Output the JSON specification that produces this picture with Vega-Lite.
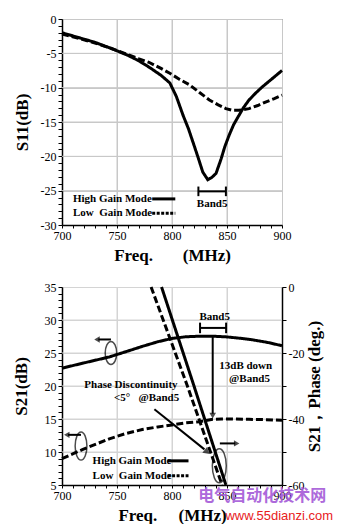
{
  "$schema": "https://vega.github.io/schema/vega-lite/v6.json",
  "padding": {"left": 12, "top": 12, "right": 0, "bottom": 0},
  "bounds": "flush",
  "spacing": 62,
  "config": {
    "font": "Liberation Serif",
    "view": {"stroke": null},
    "axis": {
      "labelFont": "Liberation Serif", "labelFontSize": 12, "labelColor": "#000", "labelFontWeight": "normal",
      "titleFont": "Liberation Serif", "titleFontSize": 17, "titleFontWeight": "bold", "titleColor": "#000",
      "domainColor": "#000", "domainWidth": 1.5, "tickColor": "#000", "tickWidth": 1, "tickSize": 3,
      "gridColor": "#c8c8c8", "gridWidth": 1, "labelOverlap": false, "labelFlush": false
    },
    "text": {"font": "Liberation Serif", "fontWeight": "bold", "fontSize": 11, "color": "#000"}
  },
  "datasets": {
    "s11": [
      {"f": 700, "v": -2.0, "mode": "High"}, {"f": 715, "v": -2.7, "mode": "High"}, {"f": 730, "v": -3.4, "mode": "High"},
      {"f": 745, "v": -4.3, "mode": "High"}, {"f": 760, "v": -5.3, "mode": "High"}, {"f": 770, "v": -6.1, "mode": "High"},
      {"f": 780, "v": -7.1, "mode": "High"}, {"f": 790, "v": -8.2, "mode": "High"}, {"f": 798, "v": -9.3, "mode": "High"},
      {"f": 804, "v": -11.3, "mode": "High"}, {"f": 810, "v": -14.0, "mode": "High"}, {"f": 815, "v": -16.0, "mode": "High"},
      {"f": 819, "v": -17.9, "mode": "High"}, {"f": 824, "v": -20.3, "mode": "High"}, {"f": 828, "v": -22.3, "mode": "High"},
      {"f": 832.5, "v": -23.4, "mode": "High"}, {"f": 836, "v": -23.1, "mode": "High"}, {"f": 840, "v": -22.5, "mode": "High"},
      {"f": 844.6, "v": -20.4, "mode": "High"}, {"f": 848, "v": -18.6, "mode": "High"}, {"f": 852, "v": -16.9, "mode": "High"},
      {"f": 856, "v": -15.4, "mode": "High"}, {"f": 861, "v": -14.0, "mode": "High"}, {"f": 865, "v": -12.9, "mode": "High"},
      {"f": 870, "v": -11.8, "mode": "High"}, {"f": 876, "v": -10.8, "mode": "High"}, {"f": 882, "v": -9.9, "mode": "High"},
      {"f": 891, "v": -8.7, "mode": "High"}, {"f": 900, "v": -7.5, "mode": "High"},
      {"f": 700, "v": -2.2, "mode": "Low"}, {"f": 715, "v": -2.8, "mode": "Low"}, {"f": 730, "v": -3.5, "mode": "Low"},
      {"f": 745, "v": -4.3, "mode": "Low"}, {"f": 760, "v": -5.2, "mode": "Low"}, {"f": 770, "v": -5.8, "mode": "Low"},
      {"f": 779, "v": -6.3, "mode": "Low"}, {"f": 790, "v": -7.2, "mode": "Low"}, {"f": 798, "v": -7.9, "mode": "Low"},
      {"f": 807, "v": -8.8, "mode": "Low"}, {"f": 816, "v": -9.6, "mode": "Low"}, {"f": 825, "v": -10.7, "mode": "Low"},
      {"f": 834, "v": -11.8, "mode": "Low"}, {"f": 842, "v": -12.5, "mode": "Low"}, {"f": 849, "v": -13.05, "mode": "Low"},
      {"f": 855, "v": -13.3, "mode": "Low"}, {"f": 861, "v": -13.3, "mode": "Low"}, {"f": 870, "v": -13.05, "mode": "Low"},
      {"f": 878, "v": -12.6, "mode": "Low"}, {"f": 885, "v": -12.1, "mode": "Low"}, {"f": 893, "v": -11.6, "mode": "Low"},
      {"f": 900, "v": -11.1, "mode": "Low"}
    ],
    "s21": [
      {"f": 700, "v": 22.7, "mode": "High"}, {"f": 720, "v": 23.5, "mode": "High"}, {"f": 743, "v": 24.4, "mode": "High"},
      {"f": 760, "v": 25.3, "mode": "High"}, {"f": 773, "v": 26.0, "mode": "High"}, {"f": 787, "v": 26.7, "mode": "High"},
      {"f": 800, "v": 27.2, "mode": "High"}, {"f": 812, "v": 27.45, "mode": "High"}, {"f": 825, "v": 27.55, "mode": "High"},
      {"f": 837, "v": 27.55, "mode": "High"}, {"f": 849, "v": 27.45, "mode": "High"}, {"f": 861, "v": 27.25, "mode": "High"},
      {"f": 873, "v": 27.0, "mode": "High"}, {"f": 887, "v": 26.6, "mode": "High"}, {"f": 900, "v": 26.1, "mode": "High"},
      {"f": 700, "v": 9.0, "mode": "Low"}, {"f": 719, "v": 10.4, "mode": "Low"}, {"f": 743, "v": 12.0, "mode": "Low"},
      {"f": 758, "v": 12.8, "mode": "Low"}, {"f": 773, "v": 13.4, "mode": "Low"}, {"f": 787, "v": 13.8, "mode": "Low"},
      {"f": 800, "v": 14.1, "mode": "Low"}, {"f": 812, "v": 14.4, "mode": "Low"}, {"f": 825, "v": 14.6, "mode": "Low"},
      {"f": 837, "v": 14.95, "mode": "Low"}, {"f": 845, "v": 15.0, "mode": "Low"}, {"f": 855, "v": 15.0, "mode": "Low"},
      {"f": 870, "v": 14.95, "mode": "Low"}, {"f": 885, "v": 14.9, "mode": "Low"}, {"f": 900, "v": 14.8, "mode": "Low"}
    ],
    "phase": [
      {"f": 790.5, "p": 0, "mode": "High"}, {"f": 820, "p": -30, "mode": "High"}, {"f": 849, "p": -60, "mode": "High"},
      {"f": 781, "p": 0, "mode": "Low"}, {"f": 814, "p": -30, "mode": "Low"}, {"f": 845.5, "p": -60, "mode": "Low"}
    ]
  },
  "vconcat": [
    {
      "width": 220,
      "height": 206,
      "view": {"stroke": "#555", "strokeWidth": 1},
      "encoding": {
        "x": {"field": "f", "type": "quantitative", "scale": {"domain": [700, 900], "nice": false},
          "axis": {"title": "Freq.\u00a0\u00a0\u00a0\u00a0\u00a0\u00a0\u00a0(MHz)", "values": [700,710,720,730,740,750,760,770,780,790,800,810,820,830,840,850,860,870,880,890,900],
            "labelExpr": "datum.value % 50 === 0 ? '' + datum.value : ''", "grid": true,
            "gridColor": {"condition": {"test": "datum.value % 50 === 0", "value": "#c8c8c8"}, "value": "transparent"},
            "labelPadding": 2, "titlePadding": 6}},
        "y": {"field": "v", "type": "quantitative", "scale": {"domain": [-30, 0], "nice": false},
          "axis": {"title": "S11(dB)", "values": [-30,-29,-28,-27,-26,-25,-24,-23,-22,-21,-20,-19,-18,-17,-16,-15,-14,-13,-12,-11,-10,-9,-8,-7,-6,-5,-4,-3,-2,-1,0],
            "labelExpr": "datum.value % 5 === 0 ? '' + datum.value : ''", "grid": true,
            "gridColor": {"condition": {"test": "datum.value % 5 === 0", "value": "#c8c8c8"}, "value": "transparent"},
            "tickSize": 4, "labelPadding": 2, "titlePadding": 9}}
      },
      "layer": [
        {
          "data": {"values": [
            {"f": 750, "f2": 750, "v": -30, "v2": 0}, {"f": 800, "f2": 800, "v": -30, "v2": 0}, {"f": 850, "f2": 850, "v": -30, "v2": 0},
            {"f": 700, "f2": 900, "v": -25, "v2": -25}, {"f": 700, "f2": 900, "v": -20, "v2": -20}, {"f": 700, "f2": 900, "v": -15, "v2": -15},
            {"f": 700, "f2": 900, "v": -10, "v2": -10}, {"f": 700, "f2": 900, "v": -5, "v2": -5}
          ]},
          "mark": {"type": "rule", "color": "#c8c8c8", "strokeWidth": 1},
          "encoding": {"x2": {"field": "f2"}, "y2": {"field": "v2"}}
        },
        {
          "data": {"name": "s11"},
          "mark": {"type": "line", "color": "#000", "strokeWidth": 3},
          "encoding": {
            "strokeDash": {"field": "mode", "type": "nominal", "scale": {"domain": ["High", "Low"], "range": [[1, 0], [7, 3]]}, "legend": null}
          }
        },
        {
          "data": {"values": [{"f": 710, "v": -26.2, "t": "High Gain Mode"}, {"f": 710, "v": -28.3, "t": "Low\u00a0\u00a0Gain Mode"}]},
          "mark": {"type": "text", "align": "left", "baseline": "middle"},
          "encoding": {"text": {"field": "t"}}
        },
        {
          "data": {"values": [{"f": 782, "f2": 803, "v": -26.2}]},
          "mark": {"type": "rule", "color": "#000", "strokeWidth": 3},
          "encoding": {"x2": {"field": "f2"}}
        },
        {
          "data": {"values": [{"f": 782, "f2": 803, "v": -28.3}]},
          "mark": {"type": "rule", "color": "#000", "strokeWidth": 3, "strokeDash": [3, 1.5]},
          "encoding": {"x2": {"field": "f2"}}
        },
        {
          "data": {"values": [
            {"f": 824, "f2": 849, "v": -25.1, "v2": -25.1},
            {"f": 824, "f2": 824, "v": -24.4, "v2": -25.8},
            {"f": 849, "f2": 849, "v": -24.4, "v2": -25.8}
          ]},
          "mark": {"type": "rule", "color": "#000", "strokeWidth": 2},
          "encoding": {"x2": {"field": "f2"}, "y2": {"field": "v2"}}
        },
        {
          "data": {"values": [{"f": 836.5, "v": -27.0, "t": "Band5"}]},
          "mark": {"type": "text", "align": "center", "baseline": "middle"},
          "encoding": {"text": {"field": "t"}}
        }
      ]
    },
    {
      "width": 220,
      "height": 198,
      "resolve": {"scale": {"y": "independent"}},
      "encoding": {
        "x": {"field": "f", "type": "quantitative", "scale": {"domain": [700, 900], "nice": false},
          "axis": {"title": "Freq.\u00a0\u00a0\u00a0\u00a0\u00a0(MHz)", "values": [700,710,720,730,740,750,760,770,780,790,800,810,820,830,840,850,860,870,880,890,900],
            "labelExpr": "datum.value % 50 === 0 ? '' + datum.value : ''", "grid": true,
            "gridColor": {"condition": {"test": "datum.value % 50 === 0", "value": "#d4d4d4"}, "value": "transparent"},
            "labelPadding": 2, "titlePadding": 6}}
      },
      "layer": [
        {
          "encoding": {
            "y": {"field": "v", "type": "quantitative", "scale": {"domain": [5, 35], "nice": false},
              "axis": {"title": "S21(dB)", "values": [5,6,7,8,9,10,11,12,13,14,15,16,17,18,19,20,21,22,23,24,25,26,27,28,29,30,31,32,33,34,35],
                "labelExpr": "datum.value % 5 === 0 ? '' + datum.value : ''", "grid": true,
                "gridColor": {"condition": {"test": "datum.value % 5 === 0", "value": "#d4d4d4"}, "value": "transparent"},
                "tickSize": 4, "labelPadding": 2, "titlePadding": 14}}
          },
          "layer": [
            {
              "data": {"values": [
                {"f": 750, "f2": 750, "v": 5, "v2": 35}, {"f": 800, "f2": 800, "v": 5, "v2": 35}, {"f": 850, "f2": 850, "v": 5, "v2": 35},
                {"f": 700, "f2": 900, "v": 10, "v2": 10}, {"f": 700, "f2": 900, "v": 15, "v2": 15}, {"f": 700, "f2": 900, "v": 20, "v2": 20},
                {"f": 700, "f2": 900, "v": 25, "v2": 25}, {"f": 700, "f2": 900, "v": 30, "v2": 30}
              ]},
              "mark": {"type": "rule", "color": "#d4d4d4", "strokeWidth": 1},
              "encoding": {"x2": {"field": "f2"}, "y2": {"field": "v2"}}
            },
            {
              "data": {"name": "s21"},
              "mark": {"type": "line", "color": "#000", "strokeWidth": 3},
              "encoding": {
                "strokeDash": {"field": "mode", "type": "nominal", "scale": {"domain": ["High", "Low"], "range": [[1, 0], [8, 4]]}, "legend": null}
              }
            },
            {
              "data": {"values": [
                {"f": 727.8, "v": 8.66, "t": "High Gain Mode"},
                {"f": 727.8, "v": 6.4, "t": "Low\u00a0\u00a0Gain Mode"},
                {"f": 843, "v": 23.0, "t": "13dB down"}
              ]},
              "mark": {"type": "text", "align": "left", "baseline": "middle"},
              "encoding": {"text": {"field": "t"}}
            },
            {
              "data": {"values": [{"f": 889, "v": 21.0, "t": "@Band5"}]},
              "mark": {"type": "text", "align": "right", "baseline": "middle"},
              "encoding": {"text": {"field": "t"}}
            },
            {
              "data": {"values": [
                {"f": 838.8, "v": 30.4, "t": "Band5"},
                {"f": 762.7, "v": 20.1, "t": "Phase Discontinuity"},
                {"f": 776.9, "v": 18.2, "t": "<5°\u00a0\u00a0\u00a0@Band5"}
              ]},
              "mark": {"type": "text", "align": "center", "baseline": "middle"},
              "encoding": {"text": {"field": "t"}}
            },
            {
              "data": {"values": [{"f": 796, "f2": 815, "v": 8.66}]},
              "mark": {"type": "rule", "color": "#000", "strokeWidth": 3},
              "encoding": {"x2": {"field": "f2"}}
            },
            {
              "data": {"values": [{"f": 796, "f2": 815, "v": 6.4}]},
              "mark": {"type": "rule", "color": "#000", "strokeWidth": 3, "strokeDash": [3, 1.5]},
              "encoding": {"x2": {"field": "f2"}}
            },
            {
              "data": {"values": [
                {"f": 825.5, "f2": 849.2, "v": 28.8, "v2": 28.8},
                {"f": 825.5, "f2": 825.5, "v": 29.6, "v2": 28.0},
                {"f": 849.2, "f2": 849.2, "v": 29.6, "v2": 28.0},
                {"f": 837, "f2": 837, "v": 27.5, "v2": 15.8},
                {"f": 784, "f2": 829.5, "v": 16.47, "v2": 10.4},
                {"f": 744.5, "f2": 733, "v": 27.05, "v2": 27.05},
                {"f": 717.3, "f2": 705.5, "v": 12.6, "v2": 12.6},
                {"f": 843.5, "f2": 857.5, "v": 11.3, "v2": 11.3}
              ]},
              "mark": {"type": "rule", "color": "#000", "strokeWidth": 2},
              "encoding": {"x2": {"field": "f2"}, "y2": {"field": "v2"}}
            },
            {
              "data": {"values": [{"f": 837, "v": 15.5}]},
              "mark": {"type": "point", "shape": "triangle-down", "filled": true, "color": "#000", "size": 45}
            },
            {
              "data": {"values": [{"f": 831.2, "v": 10.1}]},
              "mark": {"type": "point", "shape": "triangle", "angle": 129, "filled": true, "color": "#000", "size": 55}
            },
            {
              "data": {"values": [{"f": 731.8, "v": 27.05}, {"f": 704.3, "v": 12.6}]},
              "mark": {"type": "point", "shape": "triangle-left", "filled": true, "color": "#000", "size": 40}
            },
            {
              "data": {"values": [{"f": 858.8, "v": 11.3}]},
              "mark": {"type": "point", "shape": "triangle-right", "filled": true, "color": "#000", "size": 40}
            },
            {
              "data": {"values": [{"f": 744.5, "v": 25.0}]},
              "mark": {"type": "point", "shape": "M0,-1A0.5,1,0,1,1,0,1A0.5,1,0,1,1,0,-1Z", "filled": false, "stroke": "#000", "strokeWidth": 1.5, "size": 530}
            },
            {
              "data": {"values": [{"f": 717.3, "v": 10.9}]},
              "mark": {"type": "point", "shape": "M0,-1A0.42,1,0,1,1,0,1A0.42,1,0,1,1,0,-1Z", "filled": false, "stroke": "#000", "strokeWidth": 1.5, "size": 784}
            },
            {
              "data": {"values": [{"f": 843, "v": 7.9}]},
              "mark": {"type": "point", "shape": "M0,-1A0.41,1,0,1,1,0,1A0.41,1,0,1,1,0,-1Z", "filled": false, "stroke": "#000", "strokeWidth": 1.5, "size": 1156}
            },
            {
              "data": {"values": [{"f": 882, "v": 3.4, "t": "电气自动化技术网"}]},
              "mark": {"type": "text", "align": "center", "baseline": "middle", "font": "Noto Sans CJK SC", "fontWeight": "bold", "fontSize": 16, "color": "#a55ad8", "opacity": 0.9},
              "encoding": {"text": {"field": "t"}}
            },
            {
              "data": {"values": [{"f": 897.5, "v": 0.3, "t": "www.55dianzi.com"}]},
              "mark": {"type": "text", "align": "center", "baseline": "middle", "font": "Liberation Sans", "fontWeight": "normal", "fontSize": 13, "color": "#e8201c"},
              "encoding": {"text": {"field": "t"}}
            }
          ]
        },
        {
          "data": {"name": "phase"},
          "mark": {"type": "line", "color": "#000", "strokeWidth": 3},
          "encoding": {
            "y": {"field": "p", "type": "quantitative", "scale": {"domain": [-60, 0], "nice": false},
              "axis": {"orient": "right", "title": "S21，Phase  (deg.)", "titleAngle": 270, "titleBaseline": "top", "values": [-60,-50,-40,-30,-20,-10,0],
                "labelExpr": "datum.value % 20 === 0 ? '' + datum.value : ''", "grid": false,
                "tickSize": 4, "labelPadding": 2, "titlePadding": 3}},
            "strokeDash": {"field": "mode", "type": "nominal", "scale": {"domain": ["High", "Low"], "range": [[1, 0], [6, 3]]}, "legend": null}
          }
        }
      ]
    }
  ]
}
